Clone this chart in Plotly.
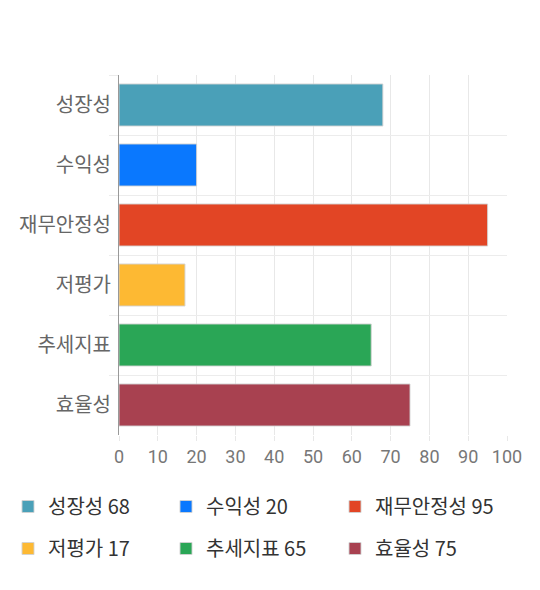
import plotly.graph_objects as go

categories = ["성장성", "수익성", "재무안정성", "저평가", "추세지표", "효율성"]
values = [68, 20, 95, 17, 65, 75]
colors = ["#4aa0b8", "#0a78fe", "#e24525", "#fdb933", "#2aa656", "#a84150"]
x_ticks = list(range(0, 101, 10))

font_family = "Noto Sans CJK KR, Noto Sans, sans-serif"
W, H = 540, 590

fig = go.Figure()
legends = {}
for i, (cat, val, col) in enumerate(zip(categories, values, colors)):
    key = "legend" if i == 0 else f"legend{i + 1}"
    fig.add_trace(go.Bar(
        x=[val], y=[cat], orientation="h",
        name=f"{cat} {val}",
        marker=dict(color=col, line=dict(color="rgba(210,210,210,0.9)", width=1)),
        legend=key,
        hoverinfo="x+y",
    ))
    # one legend per entry: 3 columns x 2 rows under the chart
    row, colno = divmod(i, 3)
    legends[key] = dict(
        x=(-11 + 169 * colno) / W, y=1 - (479 + 42 * row) / H,
        xref="container", yref="container", xanchor="left", yanchor="top",
        orientation="h", font=dict(size=20, color="#333"),
        bgcolor="rgba(0,0,0,0)",
    )

fig.update_layout(
    width=W, height=H,
    margin=dict(l=111, r=41, t=67, b=163),
    paper_bgcolor="white", plot_bgcolor="white",
    barmode="overlay", bargap=0.3,
    font=dict(family=font_family, size=17, color="#666"),
    showlegend=True,
    **legends,
)

fig.update_xaxes(
    range=[0, 100], tickvals=x_ticks, showgrid=True, gridcolor="#e8e8e8",
    zeroline=False, ticks="outside", ticklen=5, tickcolor="#e8e8e8",
    tickfont=dict(family="Roboto, sans-serif", size=18, color="#777"),
    fixedrange=True, automargin=False,
)
fig.update_yaxes(
    type="category", categoryorder="array", categoryarray=categories,
    autorange="reversed", tickson="boundaries", showgrid=True, gridcolor="#ececec",
    showline=True, linecolor="#999", linewidth=1, ticks="outside", ticklen=9,
    ticklabelstandoff=3,
    tickcolor="#ececec", tickfont=dict(size=20, color="#666"), fixedrange=True,
    automargin=False,
)

fig.write_html("out.html")
